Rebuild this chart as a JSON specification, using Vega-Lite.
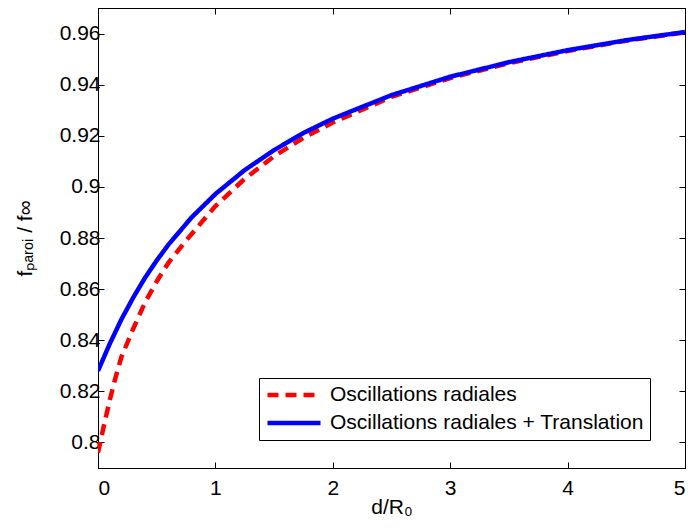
{
  "$schema": "https://vega.github.io/schema/vega-lite/v6.json",
  "width": 587,
  "height": 460,
  "autosize": {"type": "none"},
  "padding": {"left": 98, "top": 8, "right": 3, "bottom": 63},
  "background": "white",
  "config": {
    "font": "Liberation Sans",
    "view": {"stroke": "black", "strokeWidth": 1},
    "axis": {
      "grid": false,
      "domainColor": "black",
      "tickColor": "black",
      "labelColor": "black",
      "titleColor": "black",
      "labelFont": "Liberation Sans",
      "titleFont": "Liberation Sans",
      "labelFontSize": 21,
      "titleFontSize": 21,
      "titleFontWeight": "normal",
      "tickSize": -6
    }
  },
  "data": {
    "values": [
      {"d": 0, "f": 0.796, "s": "Oscillations radiales"},
      {"d": 0.05, "f": 0.8065, "s": "Oscillations radiales"},
      {"d": 0.1, "f": 0.8165, "s": "Oscillations radiales"},
      {"d": 0.15, "f": 0.8255, "s": "Oscillations radiales"},
      {"d": 0.2, "f": 0.8335, "s": "Oscillations radiales"},
      {"d": 0.3, "f": 0.8445, "s": "Oscillations radiales"},
      {"d": 0.4, "f": 0.8547, "s": "Oscillations radiales"},
      {"d": 0.5, "f": 0.863, "s": "Oscillations radiales"},
      {"d": 0.6, "f": 0.8703, "s": "Oscillations radiales"},
      {"d": 0.75, "f": 0.879, "s": "Oscillations radiales"},
      {"d": 1.0, "f": 0.8925, "s": "Oscillations radiales"},
      {"d": 1.25, "f": 0.9032, "s": "Oscillations radiales"},
      {"d": 1.5, "f": 0.912, "s": "Oscillations radiales"},
      {"d": 1.75, "f": 0.9192, "s": "Oscillations radiales"},
      {"d": 2.0, "f": 0.9252, "s": "Oscillations radiales"},
      {"d": 2.5, "f": 0.9352, "s": "Oscillations radiales"},
      {"d": 3.0, "f": 0.9426, "s": "Oscillations radiales"},
      {"d": 3.5, "f": 0.9484, "s": "Oscillations radiales"},
      {"d": 4.0, "f": 0.9532, "s": "Oscillations radiales"},
      {"d": 4.5, "f": 0.9572, "s": "Oscillations radiales"},
      {"d": 5.0, "f": 0.9605, "s": "Oscillations radiales"},
      {"d": 0, "f": 0.828, "s": "Oscillations radiales + Translation"},
      {"d": 0.05, "f": 0.8333, "s": "Oscillations radiales + Translation"},
      {"d": 0.1, "f": 0.8386, "s": "Oscillations radiales + Translation"},
      {"d": 0.2, "f": 0.8482, "s": "Oscillations radiales + Translation"},
      {"d": 0.3, "f": 0.8567, "s": "Oscillations radiales + Translation"},
      {"d": 0.4, "f": 0.8644, "s": "Oscillations radiales + Translation"},
      {"d": 0.5, "f": 0.8712, "s": "Oscillations radiales + Translation"},
      {"d": 0.6, "f": 0.8774, "s": "Oscillations radiales + Translation"},
      {"d": 0.8, "f": 0.8882, "s": "Oscillations radiales + Translation"},
      {"d": 1.0, "f": 0.8972, "s": "Oscillations radiales + Translation"},
      {"d": 1.25, "f": 0.9066, "s": "Oscillations radiales + Translation"},
      {"d": 1.5, "f": 0.9144, "s": "Oscillations radiales + Translation"},
      {"d": 1.75, "f": 0.9211, "s": "Oscillations radiales + Translation"},
      {"d": 2.0, "f": 0.9267, "s": "Oscillations radiales + Translation"},
      {"d": 2.5, "f": 0.9359, "s": "Oscillations radiales + Translation"},
      {"d": 3.0, "f": 0.9431, "s": "Oscillations radiales + Translation"},
      {"d": 3.5, "f": 0.9488, "s": "Oscillations radiales + Translation"},
      {"d": 4.0, "f": 0.9535, "s": "Oscillations radiales + Translation"},
      {"d": 4.5, "f": 0.9574, "s": "Oscillations radiales + Translation"},
      {"d": 5.0, "f": 0.9606, "s": "Oscillations radiales + Translation"}
    ]
  },
  "layer": [
    {
      "mark": {"type": "line", "strokeWidth": 4.5, "clip": true},
      "encoding": {
        "x": {
          "field": "d", "type": "quantitative",
          "scale": {"domain": [0, 5], "nice": false, "zero": false},
          "axis": {"orient": "bottom", "title": "d/R₀", "values": [0, 1, 2, 3, 4, 5], "format": "d", "labelPadding": 15, "titlePadding": -2}
        },
        "y": {
          "field": "f", "type": "quantitative",
          "scale": {"domain": [0.79, 0.97], "nice": false, "zero": false},
          "axis": {"orient": "left", "title": "fₚₐᵣₒᵢ / f∞", "values": [0.8, 0.82, 0.84, 0.86, 0.88, 0.9, 0.92, 0.94, 0.96], "format": ".2~f", "labelPadding": 4, "titlePadding": 24}
        },
        "color": {
          "field": "s", "type": "nominal",
          "scale": {"domain": ["Oscillations radiales", "Oscillations radiales + Translation"], "range": ["#ff0000", "#0000ff"]},
          "legend": {
            "title": null,
            "orient": "none",
            "legendX": 161,
            "legendY": 370,
            "symbolType": "stroke",
            "symbolSize": 2809,
            "symbolStrokeWidth": 4.5,
            "clipHeight": 22,
            "rowPadding": 6,
            "labelFontSize": 21,
            "labelColor": "black",
            "labelFont": "Liberation Sans",
            "labelOffset": 7,
            "labelLimit": 500,
            "strokeColor": "black",
            "fillColor": "white",
            "padding": 6,
            "cornerRadius": 0
          }
        },
        "strokeDash": {
          "field": "s", "type": "nominal",
          "scale": {"domain": ["Oscillations radiales", "Oscillations radiales + Translation"], "range": [[11, 7], [1, 0]]},
          "legend": null
        }
      }
    },
    {
      "mark": {"type": "point", "opacity": 0},
      "encoding": {
        "x": {
          "field": "d", "type": "quantitative",
          "scale": {"domain": [0, 5], "nice": false, "zero": false},
          "axis": {"orient": "top", "title": null, "labels": false, "values": [0, 1, 2, 3, 4, 5]}
        },
        "y": {
          "field": "f", "type": "quantitative",
          "scale": {"domain": [0.79, 0.97], "nice": false, "zero": false},
          "axis": {"orient": "right", "title": null, "labels": false, "values": [0.8, 0.82, 0.84, 0.86, 0.88, 0.9, 0.92, 0.94, 0.96]}
        }
      }
    }
  ],
  "resolve": {"axis": {"x": "independent", "y": "independent"}}
}
